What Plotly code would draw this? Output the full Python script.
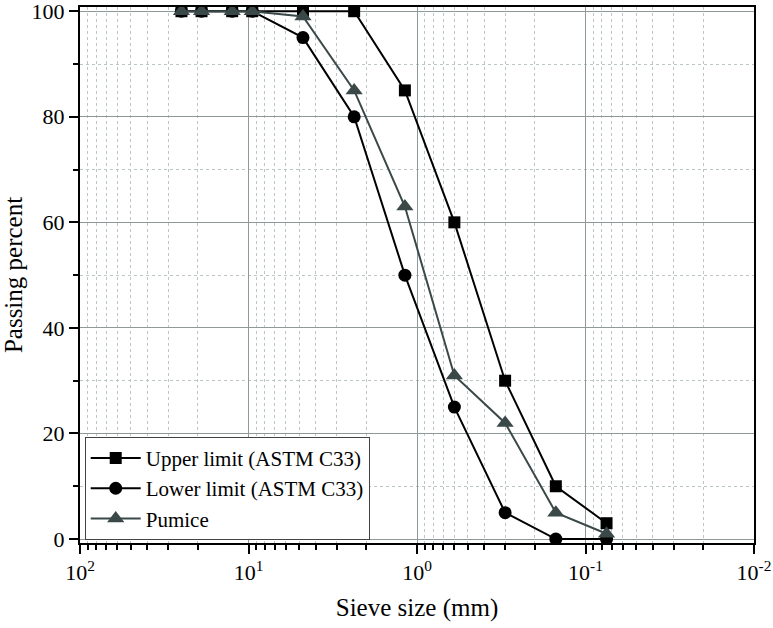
import plotly.graph_objects as go

sieve_mm = [25, 19, 12.5, 9.5, 4.75, 2.36, 1.18, 0.6, 0.3, 0.15, 0.075]
upper = [100, 100, 100, 100, 100, 100, 85, 60, 30, 10, 3]
lower = [100, 100, 100, 100, 95, 80, 50, 25, 5, 0, 0]
pumice = [100, 100, 100, 100, 99, 85, 63, 31, 22, 5, 1]

x_tick_vals = [100, 10, 1, 0.1, 0.01]
x_tick_text = ["10<sup>2</sup>", "10<sup>1</sup>", "10<sup>0</sup>", "10<sup>-1</sup>", "10<sup>-2</sup>"]
x_minor_vals = [m * 10 ** e for e in (-2, -1, 0, 1) for m in range(2, 10)]
y_tick_vals = [0, 20, 40, 60, 80, 100]
y_minor_vals = [10, 30, 50, 70, 90]

FONT = "Liberation Serif"
PUM = "#3b4848"
MAJ_GRID = "#8e9a9a"
MIN_GRID = "#bcc6c6"

fig = go.Figure()
fig.add_trace(go.Scatter(x=sieve_mm, y=upper, mode="lines+markers", name="Upper limit (ASTM C33)",
                         line=dict(color="black", width=2),
                         marker=dict(symbol="square", size=12, color="black")))
fig.add_trace(go.Scatter(x=sieve_mm, y=lower, mode="lines+markers", name="Lower limit (ASTM C33)",
                         line=dict(color="black", width=2),
                         marker=dict(symbol="circle", size=13, color="black")))
fig.add_trace(go.Scatter(x=sieve_mm, y=pumice, mode="lines+markers", name="Pumice",
                         line=dict(color=PUM, width=2),
                         marker=dict(symbol="triangle-up", size=15, color=PUM)))

fig.update_layout(
    width=773, height=628,
    margin=dict(l=80, r=19, t=7, b=85, autoexpand=False),
    paper_bgcolor="white", plot_bgcolor="white",
    font=dict(family=FONT, size=22, color="black"),
    showlegend=True,
    legend=dict(x=0.007, y=0.006, xanchor="left", yanchor="bottom",
                bgcolor="white", bordercolor="#444", borderwidth=1,
                font=dict(family=FONT, size=21, color="black"),
                tracegroupgap=0, itemwidth=50),
)

fig.update_xaxes(
    type="log", range=[2, -2], automargin=False,
    tickmode="array", tickvals=x_tick_vals, ticktext=x_tick_text,
    ticks="outside", ticklen=9, tickwidth=2, tickcolor="black",
    ticklabeloverflow="allow",
    showline=True, linecolor="black", linewidth=2, mirror=True,
    showgrid=True, gridcolor=MAJ_GRID, gridwidth=1,
    zeroline=False,
    tickfont=dict(family=FONT, size=22),
    title=dict(text="Sieve size (mm)", font=dict(family=FONT, size=25), standoff=14),
    minor=dict(tickmode="array", tickvals=x_minor_vals, ticks="outside", ticklen=5,
               tickcolor="black", showgrid=True, gridcolor=MIN_GRID, griddash="3px,3px", gridwidth=1),
)
fig.update_yaxes(
    range=[-0.75, 100.8], automargin=False,
    tickmode="array", tickvals=y_tick_vals,
    ticks="outside", ticklen=9, tickwidth=2, tickcolor="black",
    ticklabeloverflow="allow",
    showline=True, linecolor="black", linewidth=2, mirror=True,
    showgrid=True, gridcolor=MAJ_GRID, gridwidth=1,
    zeroline=False,
    tickfont=dict(family=FONT, size=22),
    title=dict(text="Passing percent", font=dict(family=FONT, size=25), standoff=8),
    minor=dict(tickmode="array", tickvals=y_minor_vals, ticks="outside", ticklen=5,
               tickcolor="black", showgrid=True, gridcolor=MIN_GRID, griddash="3px,3px", gridwidth=1),
)

fig.write_html("out.html")
